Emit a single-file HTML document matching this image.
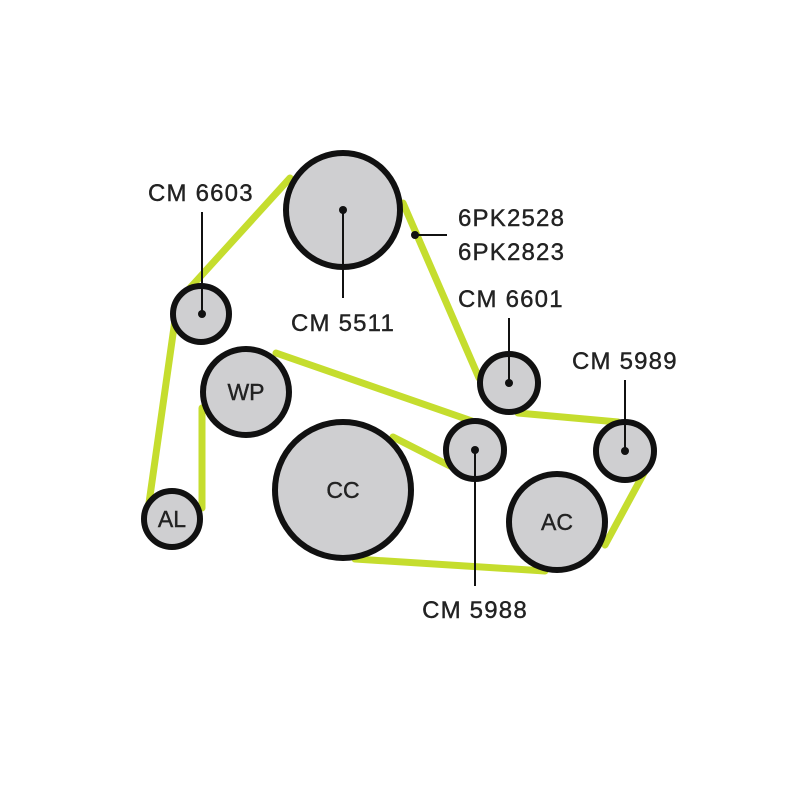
<!DOCTYPE html>
<html><head><style>body{margin:0;background:#fff}svg{display:block}text{font-family:"Liberation Sans",sans-serif;fill:#222;stroke:#222;stroke-width:0.4}</style></head>
<body><svg width="800" height="800" viewBox="0 0 800 800">
<g stroke="#c5dd2e" stroke-width="7" stroke-linecap="round" fill="none">
<line x1="290" y1="178" x2="190" y2="288"/>
<line x1="175" y1="320" x2="149" y2="503"/>
<line x1="202" y1="408" x2="202" y2="508"/>
<line x1="276" y1="353" x2="472" y2="421"/>
<line x1="393" y1="437" x2="450" y2="466"/>
<line x1="355" y1="559" x2="545" y2="571"/>
<line x1="605" y1="545" x2="644" y2="473"/>
<line x1="518" y1="413" x2="618" y2="422"/>
<line x1="479" y1="378" x2="403" y2="203"/>
</g>
<g stroke="#111" stroke-width="6" fill="#cfcfd1">
<circle cx="343" cy="210" r="57"/>
<circle cx="201" cy="314" r="28"/>
<circle cx="246" cy="392" r="43"/>
<circle cx="172" cy="519" r="28"/>
<circle cx="343" cy="490" r="68"/>
<circle cx="475" cy="450" r="29"/>
<circle cx="509" cy="383" r="29"/>
<circle cx="625" cy="451" r="29"/>
<circle cx="557" cy="522" r="48"/>
</g>
<g stroke="#111" stroke-width="2">
<line x1="202" y1="212" x2="202" y2="314"/>
<line x1="343" y1="210" x2="343" y2="298"/>
<line x1="415" y1="235" x2="447" y2="235"/>
<line x1="509" y1="318" x2="509" y2="383"/>
<line x1="625" y1="380" x2="625" y2="451"/>
<line x1="475" y1="450" x2="475" y2="586"/>
</g>
<g fill="#111">
<circle cx="343" cy="210" r="4"/><circle cx="202" cy="314" r="4"/><circle cx="415" cy="235" r="4"/>
<circle cx="509" cy="383" r="4"/><circle cx="625" cy="451" r="4"/><circle cx="475" cy="450" r="4"/>
</g>
<g font-size="24" letter-spacing="1.2">
<text x="148" y="201">CM 6603</text>
<text x="343" y="331" text-anchor="middle">CM 5511</text>
<text x="458" y="226">6PK2528</text>
<text x="458" y="260">6PK2823</text>
<text x="458" y="307">CM 6601</text>
<text x="572" y="369">CM 5989</text>
<text x="475" y="618" text-anchor="middle">CM 5988</text>
</g>
<g font-size="23">
<text x="246" y="400" text-anchor="middle">WP</text>
<text x="172" y="527" text-anchor="middle">AL</text>
<text x="343" y="498" text-anchor="middle">CC</text>
<text x="557" y="530" text-anchor="middle">AC</text>
</g>
</svg></body></html>
